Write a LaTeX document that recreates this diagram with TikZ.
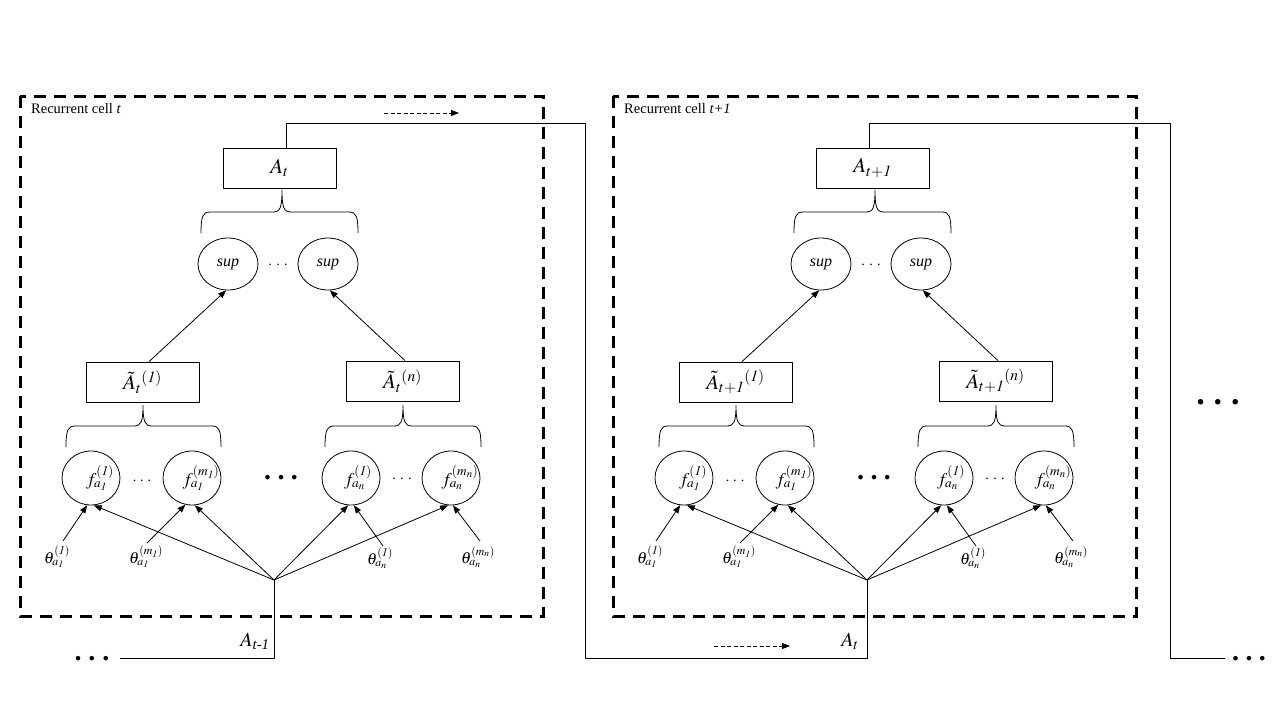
\documentclass[tikz,border=0pt]{standalone}
\usepackage{amsmath}
\usepackage{mathptmx}
\usepackage[no-math]{fontspec}
\setmainfont{Liberation Serif}
\usetikzlibrary{shapes.geometric,arrows.meta}

\tikzset{
  thinline/.style={line width=0.8pt},
  arr/.style={thinline,-{Triangle[length=8pt,width=6pt]}},
  darr/.style={line width=0.8pt,dash pattern=on 4pt off 2.5pt,-{Triangle[length=8pt,width=6pt]}},
  cellbox/.style={line width=3pt,dash pattern=on 12pt off 8pt},
  abox/.style={draw,thinline,rectangle,minimum width=113pt,minimum height=40pt,inner sep=0pt,font=\fontsize{21}{23}\selectfont},
  fell/.style={draw,thinline,ellipse,minimum width=58pt,minimum height=54pt,inner sep=0pt},
  supell/.style={draw,thinline,ellipse,minimum width=60pt,minimum height=52pt,inner sep=0pt,font=\fontsize{16}{18}\selectfont\itshape},
  flab/.style={inner sep=0pt,font=\fontsize{18}{20}\selectfont},
  thlab/.style={inner sep=0pt,font=\fontsize{16}{18}\selectfont},
  celltitle/.style={anchor=west,inner sep=0pt,font=\fontsize{14.5}{16}\selectfont},
  alab/.style={inner sep=0pt,font=\fontsize{20}{22}\selectfont},
  dotlab/.style={inner sep=0pt}
}

\newcommand\dotrow[3]{{\fontsize{#1}{#1}\selectfont#3.\hspace{#2}.\hspace{#2}.}}

% L R M yend yflat ytip
\newcommand\cellbrace[6]{%
  \draw[thinline] (#1,#4) .. controls (#1,#5+4) and (#1+2,#5) .. (#1+9,#5) -- (#3-9,#5)
    .. controls (#3-2,#5) and (#3,#5-4) .. (#3,#6)
    .. controls (#3,#5-4) and (#3+2,#5) .. (#3+9,#5) -- (#2-9,#5)
    .. controls (#2-2,#5) and (#2,#5+4) .. (#2,#4);}

% #1 xshift, #2 prefix, #3 subscript, #4 title part
\newcommand\drawcell[4]{%
\begin{scope}[xshift=#1pt]
  \draw[cellbox] (20,96) rectangle (543,616);
  \node[celltitle] (#2title) at (31,109) {Recurrent cell \textit{#4}};
  \node[abox] (#2A) at (279.5,168) {$A_{#3}$};
  \cellbrace{201}{358}{282}{233}{212}{190}
  \node[supell] (#2s1) at (228,264) {sup};
  \node[supell] (#2s2) at (328,264) {sup};
  \node[dotlab] (#2sd) at (278,265) {\dotrow{14}{4.3pt}{}};
  \node[abox] (#2Al) at (142.5,382) {$\tilde{A}_{#3}{}^{\mathit{(1)}}$};
  \node[abox] (#2Ar) at (402.5,381) {$\tilde{A}_{#3}{}^{\mathit{(n)}}$};
  \draw[arr] ([xshift=6.5pt]#2Al.north) -- (#2s1.-94);
  \draw[arr] ([xshift=2.5pt]#2Ar.north) -- (#2s2.-86);
  \cellbrace{66}{221}{143}{447}{426}{405}
  \cellbrace{325}{481}{403}{447}{426}{405}
  \node[fell] (#2f1) at (91,478) {};
  \node[fell] (#2f2) at (192,478) {};
  \node[fell] (#2f3) at (351,478) {};
  \node[fell] (#2f4) at (451,478) {};
  \node[flab] (#2f1t) at ([xshift=9pt]#2f1.center) {$f^{\mathit{(1)}}_{a_{\mathit{1}}}$};
  \node[flab] (#2f2t) at ([xshift=9pt]#2f2.center) {$f^{(m_{\mathit{1}})}_{a_{\mathit{1}}}$};
  \node[flab] (#2f3t) at ([xshift=7pt]#2f3.center) {$f^{\mathit{(1)}}_{a_n}$};
  \node[flab] (#2f4t) at ([xshift=9pt]#2f4.center) {$f^{(m_n)}_{a_n}$};
  \node[dotlab] (#2fd1) at (142,481) {\dotrow{14}{4pt}{}};
  \node[dotlab] (#2fd2) at (402,479) {\dotrow{14}{4.5pt}{}};
  \node[dotlab] (#2fd3) at (281,478) {\dotrow{28}{6.3pt}{\bfseries}};
  \coordinate (#2hub) at (274,580);
  \node[thlab] (#2th1) at (57,557) {$\theta^{\mathit{(1)}}_{a_{\mathit{1}}}$};
  \node[thlab] (#2th2) at (146,557) {$\theta^{(m_{\mathit{1}})}_{a_{\mathit{1}}}$};
  \node[thlab] (#2th3) at (380,558) {$\theta^{\mathit{(1)}}_{a_n}$};
  \node[thlab] (#2th4) at (478,557) {$\theta^{(m_n)}_{a_n}$};
  \coordinate (#2s1a) at (63,541);
  \coordinate (#2s2a) at (147,543);
  \coordinate (#2s3a) at (383,546);
  \coordinate (#2s4a) at (480,541);
  \draw[arr] (#2s1a) -- (#2f1.-98);
  \draw[arr] (#2s2a) -- (#2f2.-104);
  \draw[arr] (#2s3a) -- (#2f3.-84);
  \draw[arr] (#2s4a) -- (#2f4.-86);
  \draw[arr] (#2hub) -- (#2f1.-84);
  \draw[arr] (#2hub) -- (#2f2.-84);
  \draw[arr] (#2hub) -- (#2f3.-96);
  \draw[arr] (#2hub) -- (#2f4.-96);
\end{scope}}

\begin{document}
\begin{tikzpicture}[x=1pt,y=-1pt]
  \useasboundingbox (0,0) rectangle (1280,720);
  \fill[white] (0,0) rectangle (1280,720);

  \drawcell{0}{a}{t}{t}
  \drawcell{593}{b}{t+\mathit{1}}{t+1}

  % incoming to cell 1
  \node[dotlab] (ldots) at (92,659) {\dotrow{28}{6.8pt}{\bfseries}};
  \coordinate (inl) at (120,658);
  \draw[thinline] (inl) -| (ahub);
  \node[alab] (lblA0) at (255,641) {$A_{\text{\itshape t-1}}$};

  % cell 1 output to cell 2
  \coordinate (c1a) at (585,123);
  \coordinate (c1b) at (585,658);
  \draw[thinline] ([xshift=6.5pt]aA.north) |- (c1a) -- (c1b) -| (bhub);
  \node[alab] (lblA1) at (850,641) {$A_{t}$};
  \coordinate (da1) at (384,113);
  \coordinate (da2) at (459,113);
  \draw[darr] (da1) -- (da2);
  \coordinate (db1) at (714,646);
  \coordinate (db2) at (790,646);
  \draw[darr] (db1) -- (db2);

  % cell 2 output
  \coordinate (c2a) at (1170,123);
  \coordinate (c2b) at (1170,658);
  \coordinate (c2c) at (1225,658);
  \draw[thinline] ([xshift=-3pt]bA.north) |- (c2a) -- (c2b) -- (c2c);
  \node[dotlab] (rdots) at (1249,659) {\dotrow{28}{6.3pt}{\bfseries}};
  \node[dotlab] (mdots) at (1218,402) {\dotrow{34}{9pt}{\bfseries}};
\end{tikzpicture}
\end{document}
